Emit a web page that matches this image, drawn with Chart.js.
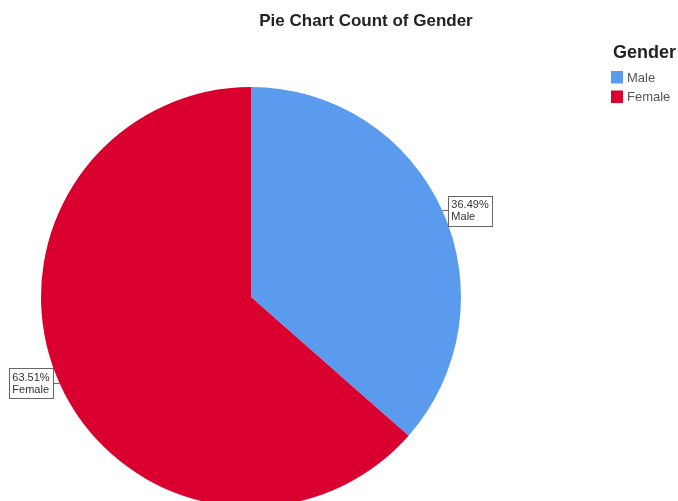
<!DOCTYPE html>
<html>
<head>
<meta charset="utf-8">
<script src="https://cdn.jsdelivr.net/npm/chart.js@4/dist/chart.umd.min.js"></script>
<style>
html,body{margin:0;padding:0;background:#fff;overflow:hidden;}
#wrap{width:678px;height:520px;}
</style>
</head>
<body>
<div id="wrap"><canvas id="c" width="678" height="520"></canvas></div>
<script>
const categories = ["Male", "Female"];
const percentages = [36.49, 63.51];
const colors = ["#5A9BEE", "#D9002F"];
const titleText = "Pie Chart Count of Gender";
const legendTitle = "Gender";

const FONT = '"Liberation Sans", Arial, sans-serif';

const decor = {
  id: 'decor',
  afterDraw(chart) {
    const ctx = chart.ctx;
    ctx.save();
    // Title
    ctx.fillStyle = '#222';
    ctx.font = 'bold 17px ' + FONT;
    ctx.textAlign = 'center';
    ctx.textBaseline = 'alphabetic';
    ctx.fillText(titleText, 366, 26);

    // Legend
    ctx.textAlign = 'left';
    ctx.font = 'bold 18px ' + FONT;
    ctx.fillStyle = '#222';
    ctx.fillText(legendTitle, 613, 58);
    ctx.font = '13px ' + FONT;
    ctx.textBaseline = 'middle';
    categories.forEach((c, i) => {
      const y = 71 + i * 19.5;
      ctx.fillStyle = colors[i];
      ctx.fillRect(611, y, 12, 12.5);
      ctx.fillStyle = '#555';
      ctx.fillText(c, 627, y + 7);
    });

    // Slice labels
    const meta = chart.getDatasetMeta(0);
    ctx.font = '11px ' + FONT;
    meta.data.forEach((arc, i) => {
      const mid = (arc.startAngle + arc.endAngle) / 2;
      const ax = arc.x + Math.cos(mid) * arc.outerRadius;
      const ay = arc.y + Math.sin(mid) * arc.outerRadius;
      const right = Math.cos(mid) >= 0;
      const l1 = percentages[i].toFixed(2) + '%';
      const l2 = categories[i];
      const w = Math.max(ctx.measureText(l1).width, ctx.measureText(l2).width) + 7;
      const h = 30;
      const gap = 6;
      const bx = right ? ax + gap : ax - gap - w;
      const by = ay - h / 2;
      ctx.strokeStyle = '#666';
      ctx.lineWidth = 1;
      ctx.beginPath();
      ctx.moveTo(ax, ay);
      ctx.lineTo(right ? bx : bx + w, ay);
      ctx.stroke();
      ctx.fillStyle = '#fff';
      ctx.fillRect(bx, by, w, h);
      ctx.strokeRect(Math.round(bx) + 0.5, Math.round(by) + 0.5, Math.round(w), h);
      ctx.fillStyle = '#333';
      ctx.textAlign = 'left';
      ctx.textBaseline = 'middle';
      ctx.fillText(l1, bx + 3, by + 9);
      ctx.fillText(l2, bx + 3, by + 21);
    });
    ctx.restore();
  }
};

new Chart(document.getElementById('c'), {
  type: 'pie',
  data: {
    labels: categories,
    datasets: [{
      data: percentages,
      backgroundColor: colors,
      borderWidth: 0
    }]
  },
  options: {
    responsive: false,
    animation: false,
    layout: { padding: { left: 41, right: 217, top: 87, bottom: 13 } },
    plugins: {
      legend: { display: false },
      title: { display: false },
      tooltip: { enabled: false }
    }
  },
  plugins: [decor]
});
</script>
</body>
</html>
